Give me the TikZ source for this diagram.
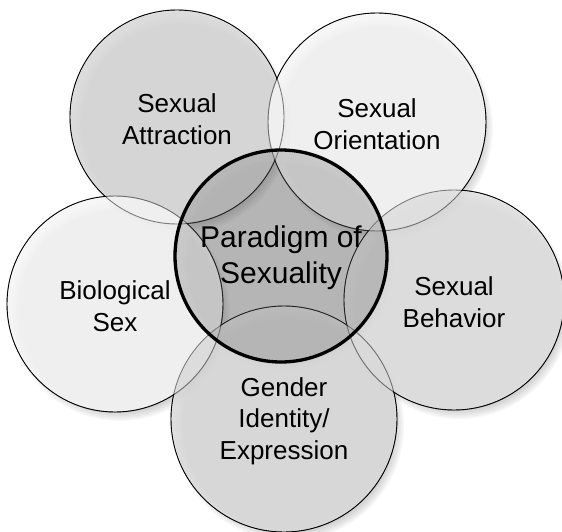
\documentclass[tikz,border=0pt]{standalone}
\usepackage{fontspec}
\setmainfont{Liberation Sans}
\begin{document}
\begin{tikzpicture}[x=1pt, y=-1pt,
    lbl/.style={font=\fontsize{26}{31.5}\selectfont, align=center, inner sep=0pt, yshift=-2pt},
    ring/.style={draw=black, line width=0.9pt},
    glass/.style={fill opacity=0.85}]
  \useasboundingbox (0,0) rectangle (562,532);
  \coordinate (att) at (177,117);
  \coordinate (ori) at (377,122);
  \coordinate (bio) at (115,304);
  \coordinate (beh) at (454,300);
  \coordinate (gen) at (284,419);
  \coordinate (par) at (281,256);
  % soft shadows
  \foreach \c/\r in {att/107,ori/109,bio/108,beh/110,gen/113,par/106}
    \foreach \k in {0,...,5}
      \fill[black, opacity=0.03] ([shift={(5,7)}]\c) circle[radius={(\r+2-\k*1.6)*1pt}];
  % thin outlines, seen grey through the glass
  \foreach \c/\r in {att/107,ori/109,bio/108,beh/110,gen/113}
    \draw[ring] (\c) circle[radius=\r pt];
  \foreach \c/\r/\g in {att/107/84,ori/109/96,bio/108/96,beh/110/87,gen/113/85}
    \fill[white!\g!black, glass] (\c) circle[radius={(\r-0.7)*1pt}];
  \foreach \c/\r in {att/107,ori/109,bio/108,beh/110,gen/113}
    \draw[ring, draw opacity=0.4] (\c) circle[radius=\r pt];
  \fill[white!45!black, fill opacity=0.3] (par) circle[radius=106pt];
  \draw[line width=3.3pt] (par) circle[radius=106pt];
  \node[lbl] (attL) at (att) {Sexual\\Attraction};
  \node[lbl] (oriL) at (ori) {Sexual\\Orientation};
  \node[lbl] (bioL) at (bio) {Biological\\Sex};
  \node[lbl] (behL) at (beh) {Sexual\\Behavior};
  \node[lbl] (genL) at (gen) {Gender\\Identity/\\Expression};
  \node[lbl, font=\fontsize{30}{36}\selectfont] (parL) at (par) {Paradigm of\\Sexuality};
\end{tikzpicture}
\end{document}
